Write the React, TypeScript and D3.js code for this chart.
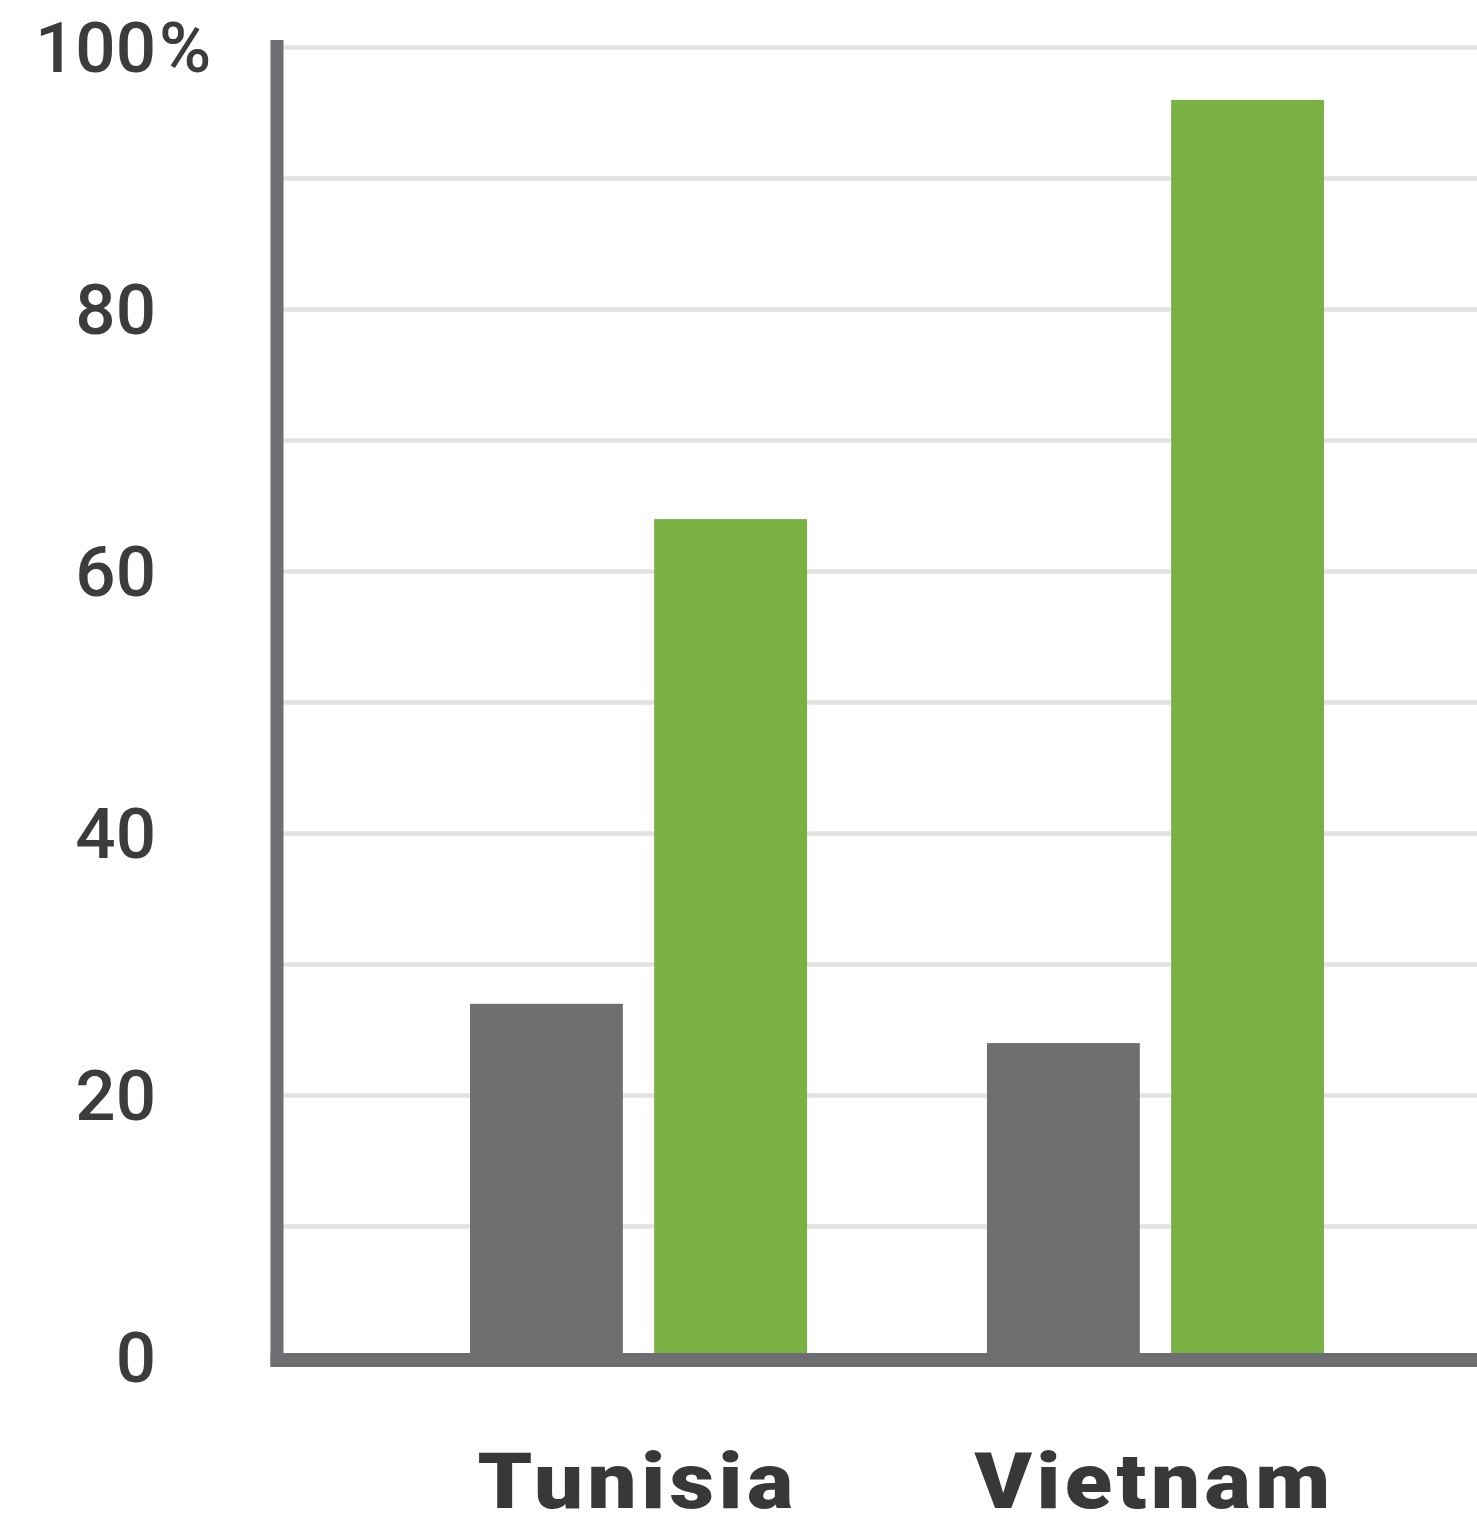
import React from "react";
import * as d3 from "d3";

const categories = ["Tunisia", "Vietnam"];
const seriesNames = ["gray", "green"];
const grayValues = [27, 24];
const greenValues = [64, 96];
const tickLabels = [0, 20, 40, 60, 80, 100];
const gridValues = [10, 20, 30, 40, 50, 60, 70, 80, 90, 100];
const colors = ["#6f6f6f", "#79b145"];

const W = 1477;
const H = 1519;

export default function App() {
  const y = d3.scaleLinear().domain([0, 100]).range([1357.5, 47.5]);
  const x0 = d3.scaleBand<string>().domain(categories).range([470, 1324]).paddingInner(0.348).paddingOuter(0);
  const x1 = d3.scaleBand<string>().domain(seriesNames).range([0, x0.bandwidth()]).paddingInner(0.17).paddingOuter(0);
  const values = [grayValues, greenValues];
  const axisX = 277;
  const baseY = 1360;

  return (
    <svg width={W} height={H} style={{ position: "absolute", left: 0, top: 0, background: "#fff" }}>
      {gridValues.map((v) => (
        <line key={v} x1={axisX} x2={W} y1={y(v)} y2={y(v)} stroke="#e2e2e2" strokeWidth={4.5} />
      ))}
      {categories.map((c, ci) => (
        <g key={c} transform={`translate(${x0(c)},0)`}>
          {seriesNames.map((s, si) => {
            const v = values[si][ci];
            return (
              <rect
                key={s}
                x={x1(s)}
                y={y(v)}
                width={x1.bandwidth()}
                height={y(0) - y(v)}
                fill={colors[si]}
              />
            );
          })}
        </g>
      ))}
      <line x1={axisX} x2={axisX} y1={40} y2={baseY + 7} stroke="#6d6e72" strokeWidth={13} />
      <line x1={axisX - 6.5} x2={W} y1={baseY} y2={baseY} stroke="#6d6e72" strokeWidth={14} />
      {tickLabels.map((t) => (
        <g key={t}>
          <text
            x={156}
            y={y(t)}
            textAnchor="end"
            dominantBaseline="central"
            fontFamily="Roboto"
            fontWeight={500}
            fontSize={71}
            fill="#3c3c3c"
          >
            {t}
          </text>
          {t === 100 && (
            <text
              x={159}
              y={y(t)}
              textAnchor="start"
              dominantBaseline="central"
              fontFamily="Roboto"
              fontWeight={500}
              fontSize={71}
              fill="#3c3c3c"
            >
              %
            </text>
          )}
        </g>
      ))}
      {categories.map((c) => (
        <text
          key={c}
          transform={`translate(${(x0(c) as number) + x0.bandwidth() / 2 - 1},1508) scale(1.115,1)`}
          textAnchor="middle"
          fontFamily="Roboto"
          fontWeight={900}
          fontSize={78}
          letterSpacing={4}
          fill="#383838"
        >
          {c}
        </text>
      ))}
    </svg>
  );
}
